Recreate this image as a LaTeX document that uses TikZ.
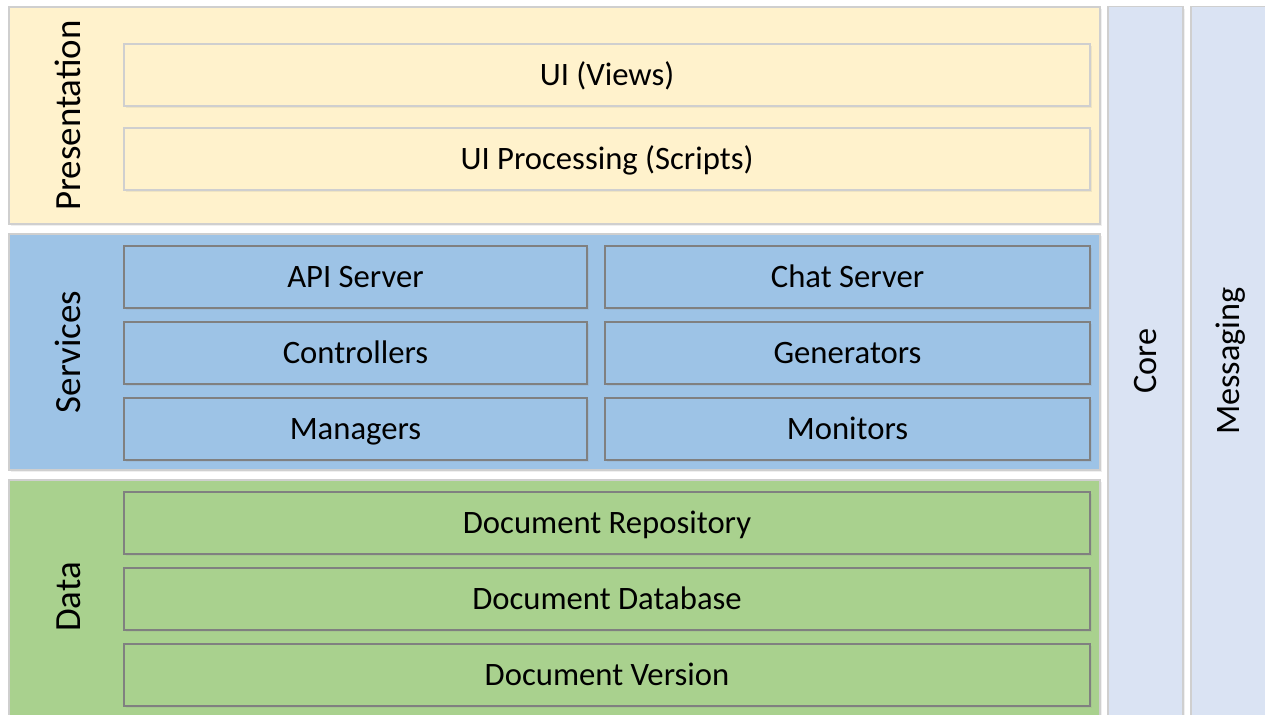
\documentclass[tikz,border=0pt]{standalone}
\usepackage{fontspec}
\setmainfont{Carlito}
\usepackage{tikz}
\usepackage{xcolor}
\usetikzlibrary{shadows}

\definecolor{presfill}{HTML}{FFF2CC}
\definecolor{servfill}{HTML}{9DC3E6}
\definecolor{datafill}{HTML}{A9D18E}
\definecolor{corefill}{HTML}{DAE3F3}
\definecolor{lightedge}{HTML}{CFCFCF}
\definecolor{darkedge}{HTML}{808080}

\begin{document}
\begin{tikzpicture}[x=0.02cm,y=-0.02cm,
  layer/.style={draw=lightedge,line width=0.8pt,inner sep=0pt,
    drop shadow={opacity=0.12,shadow xshift=1.2pt,shadow yshift=-1.2pt}},
  item/.style={draw=darkedge,line width=0.9pt,minimum height=1.24cm,inner sep=0pt,
    font=\fontsize{18.6}{22}\selectfont,text height=15pt,text depth=3.4pt,
    drop shadow={opacity=0.12,shadow xshift=1.2pt,shadow yshift=-1.2pt}},
  wide/.style={item,minimum width=19.32cm},
  side/.style={rotate=90,font=\fontsize{21}{25}\selectfont,text height=17pt,text depth=3.4pt},
  sidecol/.style={rotate=90,font=\fontsize{19.5}{23}\selectfont,text height=16pt,text depth=3.4pt}]
\useasboundingbox (0,0) rectangle (1265,715);
\fill[white] (0,0) rectangle (1265,715);
% layers
\node[layer,fill=presfill,minimum width=21.82cm,minimum height=4.34cm] (pres) at (554.5,115.5) {};
\node[layer,fill=servfill,minimum width=21.82cm,minimum height=4.72cm] (serv) at (554.5,352) {};
\node[layer,fill=datafill,minimum width=21.82cm,minimum height=4.72cm] (data) at (554.5,598) {};
\node[layer,fill=corefill,minimum width=1.5cm,minimum height=14.3cm] (core) at (1145.5,364) {};
\node[layer,fill=corefill,minimum width=1.5cm,minimum height=14.3cm] (msg) at (1228.5,364) {};
% layer labels
\node[side] (preslbl) at (68.5,115.5) {Presentation};
\node[side] (servlbl) at (68.5,352) {Services};
\node[side] (datalbl) at (68.5,597) {Data};
\node[sidecol] (corelbl) at (1145.5,361) {Core};
\node[sidecol] (msglbl) at (1228.5,361) {Messaging};
% presentation
\node[wide,fill=presfill,draw=lightedge] (views) at (607,75) {UI (Views)};
\node[wide,fill=presfill,draw=lightedge] (scripts) at (607,159) {UI Processing (Scripts)};
% services
\node[item,fill=servfill,minimum width=9.26cm] (api) at (355.5,277) {API Server};
\node[item,fill=servfill,minimum width=9.70cm] (chat) at (847.5,277) {Chat Server};
\node[item,fill=servfill,minimum width=9.26cm] (ctrl) at (355.5,353) {Controllers};
\node[item,fill=servfill,minimum width=9.70cm] (gen) at (847.5,353) {Generators};
\node[item,fill=servfill,minimum width=9.26cm] (mgr) at (355.5,429) {Managers};
\node[item,fill=servfill,minimum width=9.70cm] (mon) at (847.5,429) {Monitors};
% data
\node[wide,fill=datafill] (repo) at (607,523) {Document Repository};
\node[wide,fill=datafill] (db) at (607,599) {Document Database};
\node[wide,fill=datafill] (ver) at (607,675) {Document Version};
\end{tikzpicture}
\end{document}
